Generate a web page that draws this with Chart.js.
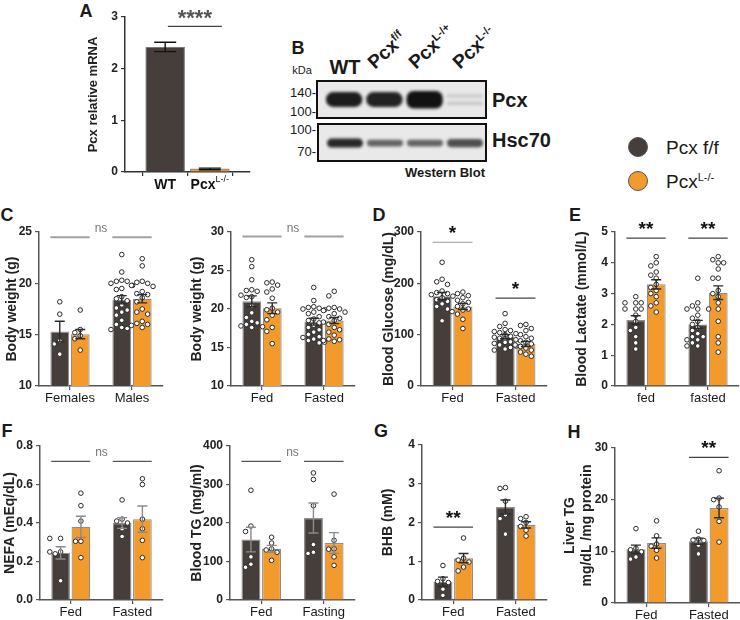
<!DOCTYPE html>
<html>
<head>
<meta charset="utf-8">
<script src="https://cdn.jsdelivr.net/npm/chart.js@4.4.1/dist/chart.umd.min.js"></script>
<style>
  body { margin: 0; width: 740px; height: 620px; position: relative; overflow: hidden; background: #fff;
         font-family: "Liberation Sans", Arial, sans-serif; color: #1a1a1a; }
  canvas { position: absolute; }
  .t { position: absolute; white-space: nowrap; line-height: 1; }
  .c { transform: translate(-50%, -50%); }
  .l { transform: translate(0, -50%); }
  .r { transform: translate(-100%, -50%); }
  .lt { font-weight: bold; font-size: 18px; }
  .sp { font-size: 0.58em; position: relative; top: -0.62em; }
  .rot { transform-origin: 0 100%; transform: rotate(-43deg); font-weight: bold; font-size: 19px; }
  .dot { position: absolute; width: 20px; height: 20px; border-radius: 50%; box-sizing: border-box; border: 1px solid #555; }
</style>
</head>
<body>

<!-- panel letters -->
<div class="t c lt" style="left:86px;top:11px">A</div>
<div class="t c lt" style="left:298px;top:48px">B</div>
<div class="t c lt" style="left:7px;top:215px">C</div>
<div class="t c lt" style="left:379px;top:215px">D</div>
<div class="t c lt" style="left:575px;top:215px">E</div>
<div class="t c lt" style="left:7px;top:431px">F</div>
<div class="t c lt" style="left:381px;top:431px">G</div>
<div class="t c lt" style="left:574px;top:432px">H</div>

<!-- western blot labels -->
<div class="t c" style="left:302px;top:70px;font-size:11px">kDa</div>
<div class="t c" style="left:345px;top:67px;font-size:20px;font-weight:bold">WT</div>
<div class="t rot" style="left:377px;top:53px">Pcx<span class="sp">f/f</span></div>
<div class="t rot" style="left:418px;top:53px">Pcx<span class="sp">L-/+</span></div>
<div class="t rot" style="left:462px;top:53px">Pcx<span class="sp">L-/-</span></div>
<div class="t r" style="left:316px;top:92px;font-size:13px">140-</div>
<div class="t r" style="left:316px;top:111px;font-size:13px">100-</div>
<div class="t r" style="left:316px;top:129px;font-size:13px">100-</div>
<div class="t r" style="left:316px;top:151px;font-size:13px">70-</div>
<div class="t l" style="left:492px;top:100px;font-size:20px;font-weight:bold">Pcx</div>
<div class="t l" style="left:492px;top:140px;font-size:20px;font-weight:bold">Hsc70</div>
<div class="t c" style="left:445px;top:172px;font-size:13px;font-weight:bold">Western Blot</div>

<!-- legend -->
<div class="dot" style="left:628px;top:137px;background:#463e3b"></div>
<div class="dot" style="left:628px;top:171px;background:#f39a2d"></div>
<div class="t l" style="left:666px;top:147px;font-size:19px">Pcx f/f</div>
<div class="t l" style="left:666px;top:181px;font-size:19px">Pcx<span class="sp">L-/-</span></div>

<script>
Chart.defaults.font.family = "'Liberation Sans', Arial, sans-serif";
Chart.defaults.color = '#222';

const DARK = '#463e3b', ORANGE = '#f39a2d', EDGE = '#8e8e8e';

// A - Pcx mRNA
const mrnaLabels = ['WT', ['Pcx', 'L-/-']];
const mrnaMean = [2.42, 0.06];
const mrnaSem = [0.09, 0.015];

// B - western blot bands (fraction of box height) and intensities
const blotLanes = ['WT', 'Pcx f/f', 'Pcx L-/+', 'Pcx L-/-'];
const pcxBand = [[0.31, 0.69], [0.31, 0.69], [0.27, 0.72], [0.55, 0.63]];
const pcxBand2 = [null, null, null, [0.36, 0.44]];
const pcxLevel = [0.95, 0.93, 1, 0.16];
const hscBand = [[0.37, 0.6], [0.4, 0.57], [0.4, 0.57], [0.38, 0.59]];
const hscLevel = [0.9, 0.62, 0.62, 0.72];

// C - body weight by sex
const sexLabels = ['Females', 'Males'];
const sexMean = [[15.3, 18.4], [15.05, 18.5]];
const sexSem = [[1.0, 0.4], [0.45, 0.4]];
const sexDots = [
  [[18.2, 17.0, 14.4, 14.1, 13.1],
   [22.8, 21.1, 20.3, 20.2, 20.2, 20.0, 19.8, 19.5, 19.4, 18.7, 18.5, 18.3, 17.9, 17.6, 17.4, 17.2, 16.9, 16.4, 16.0, 15.7, 15.6, 15.5]],
  [[17.4, 15.5, 15.2, 14.9, 14.6, 13.5],
   [22.4, 21.7, 20.2, 20.1, 20.0, 19.8, 19.7, 19.2, 19.0, 18.9, 18.6, 18.2, 17.5, 17.2, 17.0, 16.3, 16.1, 16.0, 15.9, 15.7]]
];

// C - body weight fed / fasted
const bwLabels = ['Fed', 'Fasted'];
const bwMean = [[21.0, 18.35], [20.1, 18.5]];
const bwSem = [[0.7, 0.45], [0.7, 0.4]];
const bwDots = [
  [[26.4, 25.5, 23.8, 22.5, 22.4, 22.3, 21.8, 21.6, 21.5, 20.4, 19.5, 18.9, 18.4, 18.2, 18.0, 17.8, 17.7, 17.6],
   [22.8, 21.1, 20.3, 20.2, 20.1, 20.0, 19.9, 19.6, 19.4, 19.0, 18.7, 18.5, 18.2, 17.9, 17.6, 17.3, 17.0, 16.7, 16.4, 16.3, 16.1, 15.9, 15.7, 15.6]],
  [[23.5, 23.4, 23.1, 22.6, 22.2, 21.4, 20.1, 19.9, 19.6, 19.2, 18.6, 17.6, 17.1, 15.5],
   [22.3, 21.7, 20.2, 20.1, 20.0, 19.8, 19.6, 19.4, 19.0, 18.8, 18.5, 18.3, 18.0, 17.6, 17.3, 17.0, 16.6, 16.1, 16.0, 15.9, 15.8]]
];

// D - blood glucose
const gluLabels = ['Fed', 'Fasted'];
const gluMean = [[175, 96], [155, 82]];
const gluSem = [[7, 4], [6, 5]];
const gluDots = [
  [[241, 208, 203, 198, 185, 182, 180, 178, 175, 172, 168, 165, 160, 155, 150, 127],
   [141, 122, 116, 110, 108, 106, 104, 102, 100, 98, 97, 95, 93, 92, 90, 88, 86, 85, 83, 80, 78, 75, 72, 70]],
  [[183, 180, 176, 172, 167, 163, 160, 155, 150, 148, 145, 140, 130, 112],
   [120, 118, 112, 108, 100, 96, 93, 88, 85, 82, 80, 77, 74, 70, 66, 62, 58]]
];

// E - blood lactate
const lacLabels = ['fed', 'fasted'];
const lacMean = [[2.14, 2.0], [3.3, 3.03]];
const lacSem = [[0.14, 0.13], [0.15, 0.22]];
const lacDots = [
  [[2.9, 2.7, 2.7, 2.7, 2.5, 2.5, 2.5, 2.3, 2.1, 1.9, 1.8, 1.6, 1.4, 1.2],
   [3.5, 2.7, 2.6, 2.5, 2.5, 2.5, 2.3, 2.2, 2.1, 2.0, 1.9, 1.8, 1.7, 1.6, 1.6, 1.5, 1.5, 1.4, 1.3, 1.3]],
  [[4.2, 4.0, 3.9, 3.7, 3.6, 3.5, 3.3, 3.2, 3.1, 3.0, 2.9, 2.7, 2.6, 2.4],
   [4.2, 4.1, 4.0, 4.0, 3.8, 3.5, 3.5, 3.1, 3.0, 2.9, 2.7, 2.5, 2.1, 1.6, 1.4, 1.1]]
];

// F - NEFA
const nefaLabels = ['Fed', 'Fasted'];
const nefaMean = [[0.245, 0.40], [0.38, 0.42]];
const nefaSem = [[0.032, 0.028], [0.055, 0.068]];
const nefaDots = [
  [[0.32, 0.32, 0.25, 0.25, 0.24, 0.10], [0.52, 0.42, 0.41, 0.40, 0.37, 0.33]],
  [[0.555, 0.49, 0.41, 0.305, 0.305, 0.22], [0.63, 0.60, 0.42, 0.37, 0.31, 0.22]]
];

// F - blood TG
const tgLabels = ['Fed', 'Fasting'];
const tgMean = [[157, 213], [133, 148]];
const tgSem = [[32, 39], [9, 27]];
const tgDots = [
  [[285, 192, 178, 112, 93, 85], [330, 313, 245, 144, 124, 121]],
  [[163, 148, 133, 130, 124, 103], [275, 155, 133, 132, 112, 90]]
];

// G - BHB
const bhbLabels = ['Fed', 'Fasted'];
const bhbMean = [[0.47, 2.4], [1.08, 1.94]];
const bhbSem = [[0.12, 0.18], [0.12, 0.08]];
const bhbDots = [
  [[0.89, 0.55, 0.48, 0.45, 0.28, 0.12], [2.9, 2.88, 2.55, 2.2, 2.1, 1.7]],
  [[1.6, 1.08, 1.03, 0.98, 0.85, 0.75], [2.15, 2.1, 2.0, 1.9, 1.8, 1.65]]
];

// H - liver TG
const ltgLabels = ['Fed', 'Fasted'];
const ltgMean = [[10.4, 11.95], [11.6, 18.4]];
const ltgSem = [[0.8, 0.6], [1.0, 1.9]];
const ltgDots = [
  [[14.4, 10.6, 10.3, 9.9, 8.9, 8.5], [13.9, 12.4, 12.2, 12.1, 11.2, 9.5]],
  [[15.9, 13.0, 11.4, 11.0, 10.2, 8.7], [25.6, 20.3, 20.0, 18.6, 15.8, 11.8]]
];

const PAD_TOP = 22, X_H = 26, PAD_R = 4;

function addCanvas(x, y, w, h) {
  const c = document.createElement('canvas');
  c.width = w; c.height = h;
  c.style.left = x + 'px'; c.style.top = y + 'px';
  c.style.width = w + 'px'; c.style.height = h + 'px';
  document.body.appendChild(c);
  return c;
}

// spread dots sideways so they do not overlap
function swarm(cx, half, ys) {
  const d = 5.4, placed = [];
  ys.slice().sort((a, b) => a - b).forEach(y => {
    for (let s = 0; s < 9; s++) {
      const off = s === 0 ? 0 : (s % 2 ? -1 : 1) * Math.ceil(s / 2) * d;
      if (Math.abs(off) > half) continue;
      const x = cx + off;
      if (placed.every(p => Math.hypot(p[0] - x, p[1] - y) >= d)) { placed.push([x, y]); return; }
    }
    placed.push([cx, y]);
  });
  return placed;
}

const extras = {
  id: 'extras',
  beforeDraw(chart) {
    const ex = chart.data.extra;
    if (!ex || !ex.blot) return;
    const ctx = chart.ctx;
    ctx.save();
    ctx.fillStyle = '#e9e9e9';
    ctx.fillRect(0, 0, chart.width, chart.height);
    ctx.restore();
  },
  beforeDatasetsDraw(chart) {
    const ex = chart.data.extra;
    if (!ex || !ex.blot) return;
    chart.ctx.save();
    chart.ctx.filter = 'blur(1.6px)';
  },
  afterDatasetsDraw(chart) {
    const ex = chart.data.extra;
    if (!ex) return;
    const ctx = chart.ctx;
    if (ex.blot) {
      ctx.restore();
      ctx.save();
      ctx.strokeStyle = '#111';
      ctx.lineWidth = 2;
      ctx.strokeRect(1, 1, chart.width - 2, chart.height - 2);
      ctx.restore();
      return;
    }
    const ys = chart.scales.y;
    chart.data.datasets.forEach((ds, i) => {
      const meta = chart.getDatasetMeta(i);
      meta.data.forEach((bar, j) => {
        ctx.save();
        if (ds.dots) {
          ctx.fillStyle = '#fff';
          ctx.strokeStyle = '#2a2a2a';
          ctx.lineWidth = 1;
          swarm(bar.x, bar.width / 2 + 2, ds.dots[j].map(v => ys.getPixelForValue(v))).forEach(p => {
            ctx.beginPath();
            ctx.arc(p[0], p[1], 2.3, 0, Math.PI * 2);
            ctx.fill();
            ctx.stroke();
          });
        }
        const m = meta.controller.getParsed(j).y, s = ds.sem[j];
        const yt = ys.getPixelForValue(m + s), yb = ys.getPixelForValue(m - s);
        const cw = ex.capW / 2;
        ctx.strokeStyle = ex.errColor;
        ctx.lineWidth = 1.4;
        ctx.beginPath();
        ctx.moveTo(bar.x, yb); ctx.lineTo(bar.x, yt);
        ctx.moveTo(bar.x - cw, yt); ctx.lineTo(bar.x + cw, yt);
        ctx.moveTo(bar.x - cw, yb); ctx.lineTo(bar.x + cw, yb);
        ctx.stroke();
        ctx.restore();
      });
    });
  },
  afterDraw(chart) {
    const ex = chart.data.extra;
    if (!ex || ex.blot) return;
    const ctx = chart.ctx, xs = chart.scales.x, ys = chart.scales.y;
    const span = cat => {
      const a = chart.getDatasetMeta(0).data[cat], b = chart.getDatasetMeta(1).data[cat];
      return [a.x - a.width / 2, b.x + b.width / 2];
    };
    ctx.save();
    const sig = ex.sig || {};
    if (sig.ns !== undefined) {
      const y = ys.getPixelForValue(sig.ns);
      ctx.strokeStyle = sig.color;
      ctx.lineWidth = sig.width;
      [0, 1].forEach(c => {
        const [x0, x1] = span(c);
        ctx.beginPath(); ctx.moveTo(x0, y); ctx.lineTo(x1, y); ctx.stroke();
      });
      ctx.fillStyle = '#777';
      ctx.font = "12px 'Liberation Sans', Arial, sans-serif";
      ctx.textAlign = 'center';
      ctx.textBaseline = 'alphabetic';
      ctx.fillText('ns', (xs.getPixelForValue(0) + xs.getPixelForValue(1)) / 2, y - 5);
    }
    (sig.stars || []).forEach(st => {
      const [x0, x1] = st.cat !== undefined ? span(st.cat) : [xs.getPixelForValue(st.from), xs.getPixelForValue(st.to)];
      const y = ys.getPixelForValue(st.y);
      ctx.strokeStyle = st.line || '#444';
      ctx.lineWidth = 1.2;
      ctx.beginPath(); ctx.moveTo(x0, y); ctx.lineTo(x1, y); ctx.stroke();
      ctx.fillStyle = st.color || '#111';
      ctx.font = "bold " + (st.size || 19) + "px 'Liberation Sans', Arial, sans-serif";
      ctx.textAlign = 'center';
      ctx.textBaseline = 'alphabetic';
      ctx.fillText(st.text, (x0 + x1) / 2, y - (st.lift || 3));
    });
    // category labels with superscripts
    (ex.xLabels || []).forEach((lab, i) => {
      const x = xs.getPixelForValue(i + 1), y = chart.chartArea.bottom + 13;
      const [base, sup] = Array.isArray(lab) ? lab : [lab, ''];
      ctx.font = "bold 14px 'Liberation Sans', Arial, sans-serif";
      const wb = ctx.measureText(base).width;
      ctx.font = "9px 'Liberation Sans', Arial, sans-serif";
      const wsup = sup ? ctx.measureText(sup).width : 0;
      const x0 = x - (wb + wsup) / 2;
      ctx.fillStyle = '#111';
      ctx.textAlign = 'left';
      ctx.textBaseline = 'middle';
      ctx.font = "bold 14px 'Liberation Sans', Arial, sans-serif";
      ctx.fillText(base, x0, y);
      if (sup) {
        ctx.font = "9px 'Liberation Sans', Arial, sans-serif";
        ctx.fillText(sup, x0 + wb, y - 5);
      }
    });
    ctx.restore();
  }
};
Chart.register(extras);

function panel(g, labels, mean, sem, dots, y, title, sig) {
  const tfs = g.titleSize || 14;
  const yW = Math.round(g.axisX - (g.titleX - tfs * 0.6));
  const w = yW + (g.right - g.axisX) + PAD_R;
  const h = PAD_TOP + (g.bottom - g.top) + X_H;
  const cv = addCanvas(g.axisX - yW, g.top - PAD_TOP, w, h);
  return new Chart(cv, {
    type: 'bar',
    data: {
      labels: labels,
      datasets: [
        { data: mean[0], sem: sem[0], dots: dots[0], backgroundColor: DARK },
        { data: mean[1], sem: sem[1], dots: dots[1], backgroundColor: ORANGE }
      ],
      extra: { sig: sig, errColor: g.errColor || '#2b2b2b', capW: 10 }
    },
    options: {
      responsive: false,
      animation: false,
      layout: { padding: { top: PAD_TOP, right: PAD_R, left: 0, bottom: 0 } },
      datasets: { bar: { categoryPercentage: 0.66, barPercentage: 0.92, borderColor: EDGE, borderWidth: 1.2 } },
      plugins: { legend: { display: false }, tooltip: { enabled: false } },
      scales: {
        x: {
          grid: { drawOnChartArea: false, offset: false, tickLength: 4, color: '#555', lineWidth: 1.2 },
          border: { color: '#555', width: 1.5 },
          ticks: { font: { size: 13 }, color: '#1a1a1a', padding: 1, maxRotation: 0 },
          afterFit: s => { s.height = X_H; }
        },
        y: {
          min: y.min, max: y.max,
          ticks: { stepSize: y.step, font: { size: 12, weight: 'bold' }, color: '#222', padding: 3,
                   callback: y.fmt || (v => v) },
          grid: { drawOnChartArea: false, tickLength: 4, color: '#555', lineWidth: 1.2 },
          border: { color: '#555', width: 1.5 },
          title: { display: true, text: title, font: { size: tfs, weight: 'bold' }, color: '#222', padding: 0 },
          afterFit: s => { s.width = yW; }
        }
      }
    }
  });
}

// A
(function () {
  const g = { axisX: 125, right: 250, top: 17, bottom: 172, titleX: 94 };
  const yW = Math.round(g.axisX - (g.titleX - 13 * 0.6));
  const w = yW + (g.right - g.axisX) + PAD_R;
  const h = PAD_TOP + (g.bottom - g.top) + X_H;
  const cv = addCanvas(g.axisX - yW, g.top - PAD_TOP, w, h);
  new Chart(cv, {
    type: 'bar',
    data: {
      datasets: [{
        data: mrnaMean.map((v, i) => ({ x: i + 1, y: v })),
        sem: mrnaSem,
        backgroundColor: [DARK, ORANGE],
        borderColor: EDGE, borderWidth: 1.2,
        barThickness: 39
      }],
      extra: {
        errColor: '#111', capW: 22, xLabels: mrnaLabels,
        sig: { stars: [{ from: 1.06, to: 2.27, y: 2.82, text: '****', size: 22, color: '#555', line: '#444', lift: 1 }] }
      }
    },
    options: {
      responsive: false,
      animation: false,
      layout: { padding: { top: PAD_TOP, right: PAD_R, left: 0, bottom: 0 } },
      plugins: { legend: { display: false }, tooltip: { enabled: false } },
      scales: {
        x: {
          type: 'linear', min: 0.1, max: 2.9, offset: false,
          afterBuildTicks: s => { s.ticks = mrnaMean.map((_, i) => ({ value: i + 1 })); },
          grid: { drawOnChartArea: false, tickLength: 4, color: '#333', lineWidth: 1.2 },
          border: { color: '#333', width: 1.5 },
          ticks: { display: false },
          afterFit: s => { s.height = X_H; }
        },
        y: {
          min: 0, max: 3,
          ticks: { stepSize: 1, font: { size: 12, weight: 'bold' }, color: '#222', padding: 3 },
          grid: { drawOnChartArea: false, tickLength: 4, color: '#333', lineWidth: 1.2 },
          border: { color: '#333', width: 1.5 },
          title: { display: true, text: 'Pcx relative mRNA', font: { size: 13, weight: 'bold' }, color: '#222', padding: 0 },
          afterFit: s => { s.width = yW; }
        }
      }
    }
  });
})();

// B
function blot(x, y, w, h, bands, levels) {
  const cv = addCanvas(x, y, w, h);
  new Chart(cv, {
    type: 'bar',
    data: {
      labels: blotLanes,
      datasets: bands.map(b => ({
        data: b, grouped: false,
        backgroundColor: levels.map(a => 'rgba(18,18,18,' + a + ')'),
        borderRadius: 7, borderSkipped: false,
        categoryPercentage: 0.9, barPercentage: 1
      })),
      extra: { blot: true }
    },
    options: {
      responsive: false,
      animation: false,
      layout: { padding: { left: 8, right: 2, top: 0, bottom: 0 } },
      plugins: { legend: { display: false }, tooltip: { enabled: false } },
      scales: { x: { display: false }, y: { display: false, min: 0, max: 1 } }
    }
  });
}
blot(316, 80, 171, 39, [pcxBand, pcxBand2], pcxLevel);
blot(317, 123, 170, 39, [hscBand], hscLevel);

// C
panel({ axisX: 39, right: 163, top: 232, bottom: 386, titleX: 12 }, sexLabels, sexMean, sexSem, sexDots,
      { min: 10, max: 25, step: 5 }, 'Body weight (g)', { ns: 24.5, color: '#a0a0a0', width: 2 });
panel({ axisX: 231, right: 355, top: 232, bottom: 386, titleX: 197 }, bwLabels, bwMean, bwSem, bwDots,
      { min: 10, max: 30, step: 5 }, 'Body weight (g)', { ns: 29.4, color: '#a0a0a0', width: 2 });
// D
panel({ axisX: 421, right: 547, top: 232, bottom: 386, titleX: 389 }, gluLabels, gluMean, gluSem, gluDots,
      { min: 0, max: 300, step: 100 }, 'Blood Glucose (mg/dL)',
      { stars: [{ cat: 0, y: 280, text: '*', line: '#999' }, { cat: 1, y: 171, text: '*' }] });
// E
panel({ axisX: 615, right: 739, top: 232, bottom: 386, titleX: 582 }, lacLabels, lacMean, lacSem, lacDots,
      { min: 0, max: 5, step: 1 }, 'Blood Lactate (mmol/L)',
      { stars: [{ cat: 0, y: 4.8, text: '**' }, { cat: 1, y: 4.8, text: '**' }] });
// F
panel({ axisX: 40, right: 163, top: 446, bottom: 600, titleX: 10, errColor: '#8a8a8a' }, nefaLabels, nefaMean, nefaSem, nefaDots,
      { min: 0, max: 0.8, step: 0.2, fmt: v => v.toFixed(1) }, 'NEFA (mEq/dL)', { ns: 0.72, color: '#555', width: 1.2 });
panel({ axisX: 230, right: 355, top: 446, bottom: 600, titleX: 197, errColor: '#8a8a8a' }, tgLabels, tgMean, tgSem, tgDots,
      { min: 0, max: 400, step: 100 }, 'Blood TG (mg/ml)', { ns: 360, color: '#555', width: 1.2 });
// G
panel({ axisX: 422, right: 547, top: 445, bottom: 600, titleX: 388 }, bhbLabels, bhbMean, bhbSem, bhbDots,
      { min: 0, max: 4, step: 1 }, 'BHB (mM)', { stars: [{ cat: 0, y: 1.88, text: '**' }] });
// H
panel({ axisX: 615, right: 740, top: 448, bottom: 603, titleX: 570 }, ltgLabels, ltgMean, ltgSem, ltgDots,
      { min: 0, max: 30, step: 10 }, ['Liver TG', 'mg/dL /mg protein'], { stars: [{ cat: 1, y: 28.2, text: '**' }] });
</script>
</body>
</html>
